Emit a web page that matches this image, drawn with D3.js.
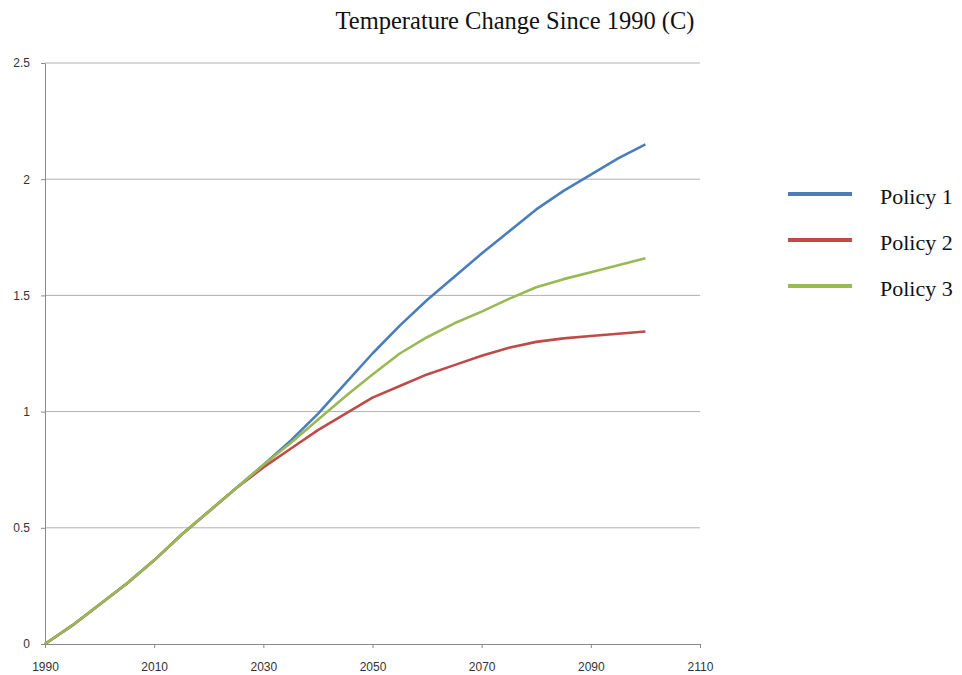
<!DOCTYPE html>
<html>
<head>
<meta charset="utf-8">
<script src="https://cdn.jsdelivr.net/npm/d3@7"></script>
<style>
  body { margin: 0; background: #fff; }
</style>
</head>
<body>
<svg id="chart"></svg>
<script>
var width = 962,
    height = 675,
    margin = {top: 63, right: 262, bottom: 31, left: 45};

// data
var years = [1990, 1995, 2000, 2005, 2010, 2015, 2020, 2025, 2030, 2035, 2040, 2045,
             2050, 2055, 2060, 2065, 2070, 2075, 2080, 2085, 2090, 2095, 2100];
var policy1 = [0, 0.08, 0.17, 0.26, 0.36, 0.47, 0.57, 0.67, 0.77, 0.875, 0.99, 1.12,
               1.25, 1.37, 1.48, 1.58, 1.68, 1.775, 1.87, 1.95, 2.02, 2.09, 2.15];
var policy2 = [0, 0.08, 0.17, 0.26, 0.36, 0.47, 0.57, 0.67, 0.76, 0.84, 0.92, 0.99,
               1.06, 1.11, 1.16, 1.20, 1.24, 1.275, 1.30, 1.315, 1.325, 1.335, 1.345];
var policy3 = [0, 0.08, 0.17, 0.26, 0.36, 0.47, 0.57, 0.67, 0.77, 0.865, 0.965, 1.065,
               1.16, 1.25, 1.32, 1.38, 1.43, 1.485, 1.535, 1.57, 1.60, 1.63, 1.66];
var seriesNames = ["Policy 1", "Policy 2", "Policy 3"];
var xTicks = [1990, 2010, 2030, 2050, 2070, 2090, 2110];
var yTicks = [0, 0.5, 1, 1.5, 2, 2.5];

var colors = ["#4a7ebb", "#be4b48", "#98b954"];

var series = [policy1, policy2, policy3].map(function(vals, i) {
  return {name: seriesNames[i], values: vals.map(function(v, j) { return {x: years[j], y: v}; })};
});

var svg = d3.select("#chart")
    .attr("width", width)
    .attr("height", height);

var x = d3.scaleLinear().domain([1990, 2110]).range([margin.left, width - margin.right]),
    y = d3.scaleLinear().domain([0, 2.5]).range([height - margin.bottom, margin.top]);

//gridlines
svg.append("g")
   .selectAll("line")
   .data(yTicks.slice(1))
   .enter().append("line")
   .attr("x1", x(1990)).attr("x2", x(2110))
   .attr("y1", function(d) { return y(d); })
   .attr("y2", function(d) { return y(d); })
   .attr("stroke", "#b0b0b0")
   .attr("stroke-width", 1);

//axes
var xAxis = svg.append("g")
   .attr("transform", "translate(0," + y(0) + ")")
   .call(d3.axisBottom(x).tickValues(xTicks).tickFormat(d3.format("d")).tickSize(4).tickSizeOuter(0));

var yAxis = svg.append("g")
   .attr("transform", "translate(" + x(1990) + ",0)")
   .call(d3.axisLeft(y).tickValues(yTicks).tickFormat(function(d) { return d; }).tickSize(4).tickSizeOuter(0));

[xAxis, yAxis].forEach(function(a) {
  a.select(".domain").attr("stroke", "#8a8a8a");
  a.selectAll(".tick line").attr("stroke", "#8a8a8a");
  a.selectAll("text")
   .attr("fill", "#333")
   .style("font-family", "'Liberation Sans', Arial, sans-serif")
   .style("font-size", "12px");
});
xAxis.selectAll("text").attr("y", 18);
yAxis.selectAll("text").attr("x", -15);

//lines
var line = d3.line()
    .x(function(d) { return x(d.x); })
    .y(function(d) { return y(d.y); });

svg.append("g")
   .selectAll("path")
   .data(series)
   .enter().append("path")
   .attr("d", function(d) { return line(d.values); })
   .attr("fill", "none")
   .attr("stroke", function(d, i) { return colors[i]; })
   .attr("stroke-width", 2.6)
   .attr("stroke-linejoin", "round");

//title
svg.append("text")
   .attr("x", 515)
   .attr("y", 29)
   .attr("text-anchor", "middle")
   .style("font-family", "'Liberation Serif', 'Times New Roman', serif")
   .style("font-size", "24.5px")
   .attr("fill", "#111")
   .text("Temperature Change Since 1990 (C)");

//legend
var legend = svg.append("g")
   .selectAll("g")
   .data(seriesNames)
   .enter().append("g")
   .attr("transform", function(d, i) { return "translate(788," + (194 + i * 46) + ")"; });

legend.append("line")
   .attr("x1", 0).attr("x2", 64)
   .attr("stroke", function(d, i) { return colors[i]; })
   .attr("stroke-width", 4);

legend.append("text")
   .attr("x", 92)
   .attr("y", 10)
   .style("font-family", "'Liberation Serif', 'Times New Roman', serif")
   .style("font-size", "22px")
   .attr("fill", "#111")
   .text(function(d) { return d; });
</script>
</body>
</html>
